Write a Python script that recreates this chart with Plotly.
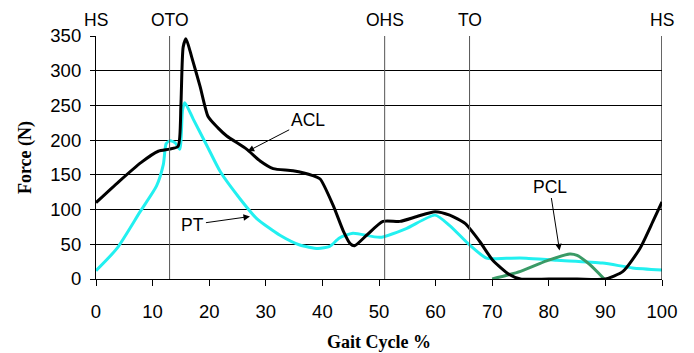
import plotly.graph_objects as go

# ---- data ----
acl_x = [0, 4, 8, 11, 13, 14.5, 15, 15.4, 15.9, 16.9, 18.4, 19.8, 21.5, 23.1, 26.6, 29, 31.3, 34.8, 38.3, 39.6,
         41.9, 43.7, 44.9, 45.7, 47.8, 50.7, 53.7, 56.7, 59.9, 62.5, 65.2, 67.8, 70.1, 73.1, 75, 80, 85, 90,
         93.1, 96.1, 98.4, 100]
acl_y = [110, 140, 168, 184, 187, 191, 250, 334, 346, 320, 277, 234, 218, 206, 187, 170, 159, 156, 149, 144,
         106, 69, 51, 48, 63, 83, 83, 90, 97, 92, 80, 54, 27, 6, 0, 0, 0, 0,
         11, 44, 83, 111]

pt_x = [0, 3.7, 7.8, 10.7, 11.9, 12.4, 13.1, 14, 14.8, 15.3, 15.7, 17.2, 19.6, 22, 25.4, 28.4, 32.5, 36, 39.2,
        41.3, 43, 45.4, 50.2, 54.9, 59.9, 62.5, 66, 69, 72.5, 76, 81.4, 89.5, 94.8, 100]
pt_y = [12, 44, 97, 134, 165, 195, 199, 196, 187, 244, 254, 230, 192, 154, 116, 87, 63, 49, 44,
        47, 59, 66, 60, 73, 92, 77, 49, 30, 30, 30, 27, 23, 16, 13]

pcl_x = [70, 75, 79.6, 83.7, 85, 87.2, 89.8]
pcl_y = [0, 11, 26, 36, 34, 21, 0]

event_names = ["HS", "OTO", "OHS", "TO", "HS"]
event_x = [0, 13, 51, 66, 100]

x_ticks = [0, 10, 20, 30, 40, 50, 60, 70, 80, 90, 100]
y_ticks = [0, 50, 100, 150, 200, 250, 300, 350]

fig = go.Figure()
fig.add_trace(go.Scatter(x=pt_x, y=pt_y, mode="lines", name="PT",
                         line=dict(color="#22F0F0", width=3, shape="spline", smoothing=0.6)))
fig.add_trace(go.Scatter(x=pcl_x, y=pcl_y, mode="lines", name="PCL",
                         line=dict(color="#3A9A66", width=3, shape="spline", smoothing=0.6)))
fig.add_trace(go.Scatter(x=acl_x, y=acl_y, mode="lines", name="ACL",
                         line=dict(color="black", width=3, shape="spline", smoothing=0.6)))

# event lines and labels
for name, ex in zip(event_names, event_x):
    if 0 < ex < 100:
        fig.add_shape(type="line", x0=ex, x1=ex, y0=0, y1=350, xref="x", yref="y",
                      line=dict(color="#555555", width=1))
    fig.add_annotation(x=ex, y=1, xref="x", yref="paper", text=name, showarrow=False,
                       yanchor="middle", yshift=16, font=dict(family="Liberation Sans", size=17.5, color="black"))
# right border
fig.add_shape(type="line", x0=100, x1=100, y0=0, y1=350, xref="x", yref="y",
              line=dict(color="black", width=1.2))

arrow_font = dict(family="Liberation Sans", size=17.5, color="black")
fig.add_annotation(x=26.8, y=184, text="ACL", showarrow=True, ax=60, ay=-31, font=arrow_font,
                   arrowhead=2, arrowsize=1.3, arrowwidth=1, arrowcolor="black")
fig.add_annotation(x=27.2, y=90, text="PT", showarrow=True, ax=-57, ay=8, font=arrow_font,
                   arrowhead=2, arrowsize=1.3, arrowwidth=1, arrowcolor="black")
fig.add_annotation(x=81.9, y=41, text="PCL", showarrow=True, ax=-10, ay=-64, font=arrow_font,
                   arrowhead=2, arrowsize=1.3, arrowwidth=1, arrowcolor="black")

# page body has an 8px margin: compensate so the plot area lands at x 96..662, y 36..281
fig.update_layout(
    width=694, height=353,
    margin=dict(l=88, r=40, t=28, b=80),
    paper_bgcolor="white", plot_bgcolor="white",
    showlegend=False,
    font=dict(family="Liberation Sans", size=18.5, color="black"),
    xaxis=dict(range=[0, 100], tickvals=x_ticks, showgrid=False, zeroline=False,
               showline=True, linecolor="black", linewidth=1.2,
               ticks="outside", ticklen=6, tickcolor="black", ticklabelstandoff=10,
               title=dict(text="<b>Gait Cycle %</b>", font=dict(family="Liberation Serif", size=18), standoff=14)),
    yaxis=dict(range=[0, 350], tickvals=y_ticks, showgrid=True, gridcolor="black", gridwidth=1,
               zeroline=False, showline=True, linecolor="black", linewidth=1.2,
               ticks="outside", ticklen=5, tickcolor="black", ticklabelstandoff=5,
               title=dict(text="<b>Force (N)</b>", font=dict(family="Liberation Serif", size=18), standoff=14)),
)

fig.write_html("out.html")
